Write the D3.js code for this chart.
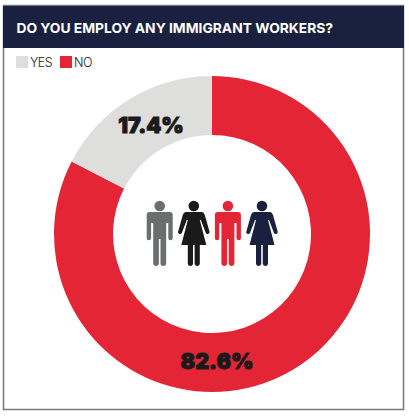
<!DOCTYPE html>
<html>
<head>
<meta charset="utf-8">
<script src="https://cdn.jsdelivr.net/npm/d3@7"></script>
<style>
html, body { margin: 0; padding: 0; background: #fff; }
svg { display: block; }
</style>
</head>
<body>
<script>
const width = 409;
const height = 417;

const categories = ["NO", "YES"];
const values = [82.6, 17.4];
const labels = ["82.6%", "17.4%"];
const legendOrder = ["YES", "NO"];
const iconKinds = ["man", "woman", "man", "woman"];
const iconColors = ["#6a6e6c", "#1a1a1a", "#e42535", "#19213f"];

const color = d3.scaleOrdinal()
    .domain(categories)
    .range(["#e42535", "#dededc"]);

const svg = d3.select("body")
    .append("svg")
    .attr("width", width)
    .attr("height", height)
    .style("background", "#fff");

// frame and header
svg.append("rect")
    .attr("x", 3.5).attr("y", 5.5)
    .attr("width", 400).attr("height", 404)
    .attr("fill", "#fff")
    .attr("stroke", "#77787a")
    .attr("stroke-width", 1.5);

svg.append("rect")
    .attr("x", 3).attr("y", 6)
    .attr("width", 401).attr("height", 42)
    .attr("fill", "#1a2140");

svg.append("text")
    .attr("x", 16.5).attr("y", 33)
    .attr("font-family", "Inter, 'Open Sans', sans-serif")
    .attr("font-weight", 700)
    .attr("font-size", 13.8)
    .attr("fill", "#fff")
    .text("DO YOU EMPLOY ANY IMMIGRANT WORKERS?");

// legend
const legendX = d3.scalePoint().domain(legendOrder).range([16, 60]);

const legend = svg.append("g")
    .selectAll("g")
    .data(legendOrder)
    .enter()
    .append("g")
    .attr("transform", (d)=>"translate(" + legendX(d) + ",56)");

legend.append("rect")
    .attr("width", 12)
    .attr("height", 12)
    .attr("fill", (d)=>color(d));

legend.append("text")
    .attr("x", 14)
    .attr("y", 11)
    .attr("font-family", "Inter, 'Open Sans', sans-serif")
    .attr("font-size", 12.5)
    .attr("font-weight", 300)
    .attr("letter-spacing", -0.5)
    .attr("fill", "#222")
    .text((d)=>d);

// donut
const chart = svg.append("g")
    .attr("transform", "translate(212,234)");

const outRadius = 158;
const inRadius = 99;

const pie = d3.pie().value((d)=>d).sort(null);
const slices = pie(values);

const arc = d3.arc()
    .innerRadius(inRadius)
    .outerRadius(outRadius);

chart.selectAll("path")
    .data(slices)
    .enter()
    .append("path")
    .attr("d", arc)
    .attr("fill", (d, i)=>color(categories[i]));

// label positions relative to the centre, picked by eye
const labelOffsets = [[5, 135], [-61, -101]];

chart.append("g")
    .selectAll("text")
    .data(slices)
    .enter()
    .append("text")
    .attr("transform", (d, i)=>"translate(" + labelOffsets[i] + ")")
    .attr("text-anchor", "middle")
    .attr("font-family", "Inter, 'DejaVu Sans', sans-serif")
    .attr("font-weight", 900)
    .attr("font-size", 21.5)
    .attr("fill", "#1a1a1a")
    .attr("stroke", "#1a1a1a")
    .attr("stroke-width", 1)
    .text((d, i)=>labels[i]);

// people in the middle
const manPath = "M-13,-17 Q-13,-20 -10,-20 L10,-20 Q13,-20 13,-17 L13,6 A2.2,2.2 0 0 1 8.6,6 L8.6,-9 L6.5,-9 L6.5,32 A3,3 0 0 1 0.8,32 L0.8,7 L-0.8,7 L-0.8,32 A3,3 0 0 1 -6.5,32 L-6.5,-9 L-8.6,-9 L-8.6,6 A2.2,2.2 0 0 1 -13,6 Z";
const womanPath = "M-8,-20 L8,-20 Q10,-20 11,-17 L15.5,-1 A2,2 0 0 1 12,1 L7,-12 L6,-12 L12.5,13 L6,13 L6,32 A2.7,2.7 0 0 1 0.8,32 L0.8,13 L-0.8,13 L-0.8,32 A2.7,2.7 0 0 1 -6,32 L-6,13 L-12.5,13 L-6,-12 L-7,-12 L-12,1 A2,2 0 0 1 -15.5,-1 L-11,-17 Q-10,-20 -8,-20 Z";

const iconX = d3.scalePoint()
    .domain(d3.range(iconKinds.length))
    .range([159.7, 262]);

const icons = svg.append("g")
    .selectAll("g")
    .data(iconKinds)
    .enter()
    .append("g")
    .attr("transform", (d, i)=>"translate(" + iconX(i) + ",232)")
    .attr("fill", (d, i)=>iconColors[i]);

icons.append("circle")
    .attr("cy", -26)
    .attr("r", 5.3);

icons.append("path")
    .attr("d", (d)=>d === "man" ? manPath : womanPath);
</script>
</body>
</html>
